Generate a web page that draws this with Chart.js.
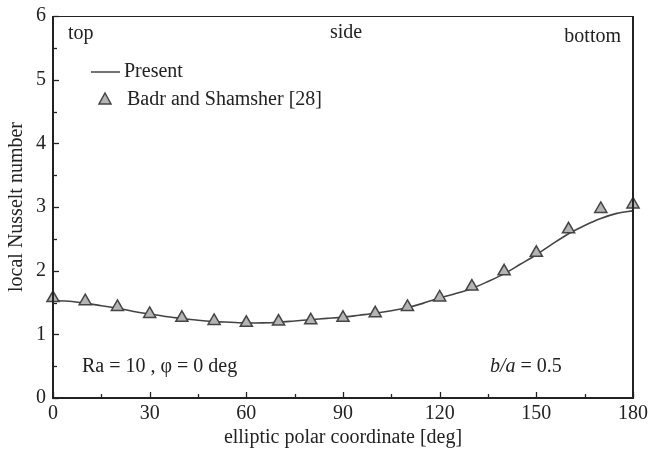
<!DOCTYPE html>
<html>
<head>
<meta charset="utf-8">
<script src="https://cdn.jsdelivr.net/npm/chart.js@4/dist/chart.umd.min.js"></script>
<style>
  html, body { margin: 0; padding: 0; background: #fff; }
  #wrap { width: 648px; height: 451px; position: relative; }
</style>
</head>
<body>
<div id="wrap"><canvas id="nuChart"></canvas></div>
<script>
// Present (line) - local Nusselt number vs elliptic polar coordinate
const presentDeg = [0, 5, 10, 15, 20, 25, 30, 35, 40, 45, 50, 55, 60, 65, 70, 75, 80, 85, 90,
                    95, 100, 105, 110, 115, 120, 125, 130, 135, 140, 145, 150, 155, 160, 165, 170, 175, 180];
const presentNu = [1.53, 1.52, 1.49, 1.45, 1.41, 1.36, 1.32, 1.28, 1.25, 1.22, 1.20, 1.19, 1.18, 1.18, 1.19, 1.21, 1.23, 1.25, 1.27,
                   1.30, 1.33, 1.37, 1.42, 1.49, 1.57, 1.64, 1.72, 1.83, 1.95, 2.10, 2.25, 2.42, 2.58, 2.71, 2.82, 2.90, 2.94];

// Badr and Shamsher [28] (triangles)
const badrDeg = [0, 10, 20, 30, 40, 50, 60, 70, 80, 90, 100, 110, 120, 130, 140, 150, 160, 170, 180];
const badrNu = [1.57, 1.52, 1.43, 1.32, 1.26, 1.21, 1.18, 1.20, 1.22, 1.26, 1.33, 1.43, 1.58, 1.75, 1.99, 2.28, 2.65, 2.97, 3.04];

const xMajorTicks = [0, 30, 60, 90, 120, 150, 180];
const yMajorTicks = [0, 1, 2, 3, 4, 5, 6];

const FONT = "'Liberation Serif', 'DejaVu Serif', serif";
const FSIZE = 20;
const INK = '#222';

// frame, inward ticks, labels inside the plot
const framePlugin = {
    id: 'framePlugin',
    afterDraw(chart) {
        const ctx = chart.ctx;
        const area = chart.chartArea;
        const xs = chart.scales.x;
        const ys = chart.scales.y;
        ctx.save();
        ctx.strokeStyle = INK;

        // inward ticks on bottom and left
        ctx.lineWidth = 1.3;
        for (let v = 0; v <= 180; v += 15) {
            const px = Math.round(xs.getPixelForValue(v)) + 0.5;
            const len = xMajorTicks.includes(v) ? 6 : 4;
            ctx.beginPath();
            ctx.moveTo(px, area.bottom);
            ctx.lineTo(px, area.bottom - len);
            ctx.stroke();
        }
        for (let v = 0; v <= 6; v += 0.5) {
            const py = Math.round(ys.getPixelForValue(v)) + 0.5;
            const len = yMajorTicks.includes(v) ? 6 : 4;
            ctx.beginPath();
            ctx.moveTo(area.left, py);
            ctx.lineTo(area.left + len, py);
            ctx.stroke();
        }

        // frame
        ctx.lineWidth = 1;
        ctx.beginPath();
        ctx.moveTo(area.left, area.top + 0.5);
        ctx.lineTo(area.right, area.top + 0.5);
        ctx.stroke();
        ctx.lineWidth = 2;
        ctx.beginPath();
        ctx.moveTo(area.left, area.top);
        ctx.lineTo(area.left, area.bottom);
        ctx.lineTo(area.right, area.bottom);
        ctx.lineTo(area.right, area.top);
        ctx.stroke();

        // region labels
        ctx.fillStyle = INK;
        ctx.font = FSIZE + 'px ' + FONT;
        ctx.textBaseline = 'middle';
        ctx.textAlign = 'left';
        ctx.fillText('top', 68, 34);
        ctx.textAlign = 'center';
        ctx.fillText('side', 346, 33);
        ctx.textAlign = 'right';
        ctx.fillText('bottom', 621, 37);

        // legend
        ctx.textAlign = 'left';
        ctx.strokeStyle = '#444';
        ctx.lineWidth = 1.5;
        ctx.beginPath();
        ctx.moveTo(91, 72);
        ctx.lineTo(120, 72);
        ctx.stroke();
        ctx.fillText('Present', 124, 72);
        ctx.beginPath();
        ctx.moveTo(105, 93);
        ctx.lineTo(111, 104);
        ctx.lineTo(99, 104);
        ctx.closePath();
        ctx.fillStyle = '#b4b4b4';
        ctx.fill();
        ctx.strokeStyle = '#444';
        ctx.stroke();
        ctx.fillStyle = INK;
        ctx.fillText('Badr and Shamsher [28]', 127, 100);

        // conditions
        ctx.fillText('Ra = 10 , \u03c6 = 0 deg', 82, 367);
        ctx.font = 'italic ' + FSIZE + 'px ' + FONT;
        ctx.fillText('b/a', 490, 367);
        const w = ctx.measureText('b/a').width;
        ctx.font = FSIZE + 'px ' + FONT;
        ctx.fillText(' = 0.5', 490 + w, 367);
        ctx.restore();
    }
};

const ctx = document.getElementById('nuChart').getContext('2d');
const nuChart = new Chart(ctx, {
    type: 'scatter',
    data: {
        datasets: [
            {
                label: 'Present',
                data: presentDeg.map((d, i) => ({ x: d, y: presentNu[i] })),
                showLine: true,
                borderColor: '#444',
                borderWidth: 1.6,
                pointRadius: 0,
                tension: 0.3,
                order: 2
            },
            {
                label: 'Badr and Shamsher [28]',
                data: badrDeg.map((d, i) => ({ x: d, y: badrNu[i] })),
                pointStyle: 'triangle',
                pointRadius: 7,
                backgroundColor: '#b4b4b4',
                borderColor: '#444',
                borderWidth: 1.5,
                clip: false,
                order: 1
            }
        ]
    },
    options: {
        responsive: true,
        maintainAspectRatio: false,
        animation: false,
        layout: { padding: { top: 16, right: 15, left: 0, bottom: 0 } },
        plugins: {
            legend: { display: false },
            tooltip: { enabled: false }
        },
        scales: {
            x: {
                type: 'linear',
                min: 0,
                max: 180,
                grid: { display: false, drawTicks: false },
                border: { display: false },
                ticks: {
                    stepSize: 30,
                    padding: 4,
                    color: INK,
                    font: { family: FONT, size: FSIZE },
                    maxRotation: 0
                },
                title: {
                    display: true,
                    text: 'elliptic polar coordinate [deg]',
                    color: INK,
                    font: { family: FONT, size: FSIZE, lineHeight: 1.2 },
                    padding: { top: 0, bottom: 1 }
                },
                afterFit(scale) {
                    scale.height = 53;
                    scale.paddingLeft = 0;
                    scale.paddingRight = 0;
                }
            },
            y: {
                type: 'linear',
                min: 0,
                max: 6,
                grid: { display: false, drawTicks: false },
                border: { display: false },
                ticks: {
                    stepSize: 1,
                    padding: 7,
                    color: INK,
                    font: { family: FONT, size: FSIZE }
                },
                title: {
                    display: true,
                    text: 'local Nusselt number',
                    color: INK,
                    font: { family: FONT, size: FSIZE, lineHeight: 1.2 },
                    padding: { top: 5, bottom: 0 }
                },
                afterFit(scale) {
                    scale.width = 53;
                    scale.paddingTop = 0;
                    scale.paddingBottom = 0;
                }
            }
        }
    },
    plugins: [framePlugin]
});
</script>
</body>
</html>
